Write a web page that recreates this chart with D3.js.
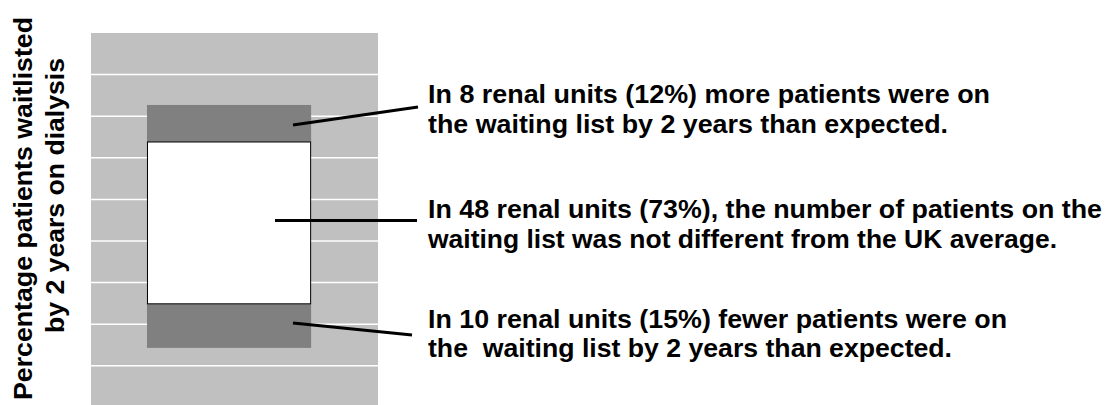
<!DOCTYPE html>
<html>
<head>
<meta charset="utf-8">
<script src="https://cdn.jsdelivr.net/npm/d3@7"></script>
<style>
  html, body { margin: 0; padding: 0; background: #fff; }
  svg { display: block; }
  text { font-family: "Liberation Sans", Arial, sans-serif; font-weight: bold; fill: #000; white-space: pre; }
</style>
</head>
<body>
<div id="chart"></div>
<script>
// ---- data ----
const gridTicks = [0, 10, 20, 30, 40, 50, 60, 70, 80, 90];
// bands (percentage waitlisted, arbitrary scale)
const bandNames = ["above", "within", "below"];
const bandLow  = [63.8, 24.9, 14.3];
const bandHigh = [72.7, 63.8, 24.9];
const bandFill = ["#808080", "#ffffff", "#808080"];
const annotationLines = [
  ["In 8 renal units (12%) more patients were on", "the waiting list by 2 years than expected."],
  ["In 48 renal units (73%), the number of patients on the", "waiting list was not different from the UK average."],
  ["In 10 renal units (15%) fewer patients were on", "the  waiting list by 2 years than expected."]
];
const yLabel = ["Percentage patients waitlisted", "by 2 years on dialysis"];

// ---- layout ----
const W = 1106, H = 405;
const svg = d3.select("#chart").append("svg").attr("width", W).attr("height", H);

const y = d3.scaleLinear().domain([0, 90]).range([407.4, 33]);
const x = d3.scaleLinear().domain([0, 1]).range([91, 378]);
const boxX0 = x(0.195), boxX1 = x(0.767);

// background
svg.append("rect").attr("x", x(0)).attr("y", y(90)).attr("width", x(1) - x(0))
  .attr("height", y(0) - y(90)).attr("fill", "#c0c0c0");

// gridlines
svg.append("g").selectAll("line").data(gridTicks.slice(1, -1)).join("line")
  .attr("x1", x(0)).attr("x2", x(1))
  .attr("y1", d => y(d)).attr("y2", d => y(d))
  .attr("stroke", "#ffffff").attr("stroke-width", 1.5);

// bands
const bands = bandNames.map((n, i) => ({ n, lo: bandLow[i], hi: bandHigh[i], fill: bandFill[i] }));
svg.append("g").selectAll("rect").data(bands.filter(b => b.n !== "within")).join("rect")
  .attr("x", boxX0).attr("width", boxX1 - boxX0)
  .attr("y", d => y(d.hi)).attr("height", d => y(d.lo) - y(d.hi))
  .attr("fill", d => d.fill);
const mid = bands[1];
svg.append("rect").attr("x", boxX0 + 0.5).attr("width", boxX1 - boxX0 - 1)
  .attr("y", y(mid.hi)).attr("height", y(mid.lo) - y(mid.hi))
  .attr("fill", mid.fill).attr("stroke", "#000").attr("stroke-width", 1);

// connectors
const conn = [
  { x1: 293, y1: 125, x2: 418, y2: 107 },
  { x1: 275, y1: 220.5, x2: 417, y2: 220.5 },
  { x1: 293, y1: 323, x2: 412, y2: 335 }
];
svg.append("g").selectAll("line").data(conn).join("line")
  .attr("x1", d => d.x1).attr("y1", d => d.y1).attr("x2", d => d.x2).attr("y2", d => d.y2)
  .attr("stroke", "#000").attr("stroke-width", 3);

// annotations
const textX = 428;
const baselines = [[103, 133], [217.5, 248], [327.5, 357]];
const widths = [[562, 520], [674, 629], [579, 524]];
annotationLines.forEach((lines, i) => {
  lines.forEach((t, j) => {
    svg.append("text").attr("x", textX).attr("y", baselines[i][j])
      .attr("xml:space", "preserve")
      .attr("font-size", 25.5)
      .attr("textLength", widths[i][j]).attr("lengthAdjust", "spacingAndGlyphs")
      .text(t);
  });
});

// y label
const yl = svg.append("g");
yl.append("text").attr("transform", "translate(32,400) rotate(-90)")
  .attr("font-size", 25.5).attr("textLength", 383).attr("lengthAdjust", "spacingAndGlyphs")
  .text(yLabel[0]);
yl.append("text").attr("transform", "translate(64,333) rotate(-90)")
  .attr("font-size", 25.5).attr("textLength", 275).attr("lengthAdjust", "spacingAndGlyphs")
  .text(yLabel[1]);
</script>
</body>
</html>
